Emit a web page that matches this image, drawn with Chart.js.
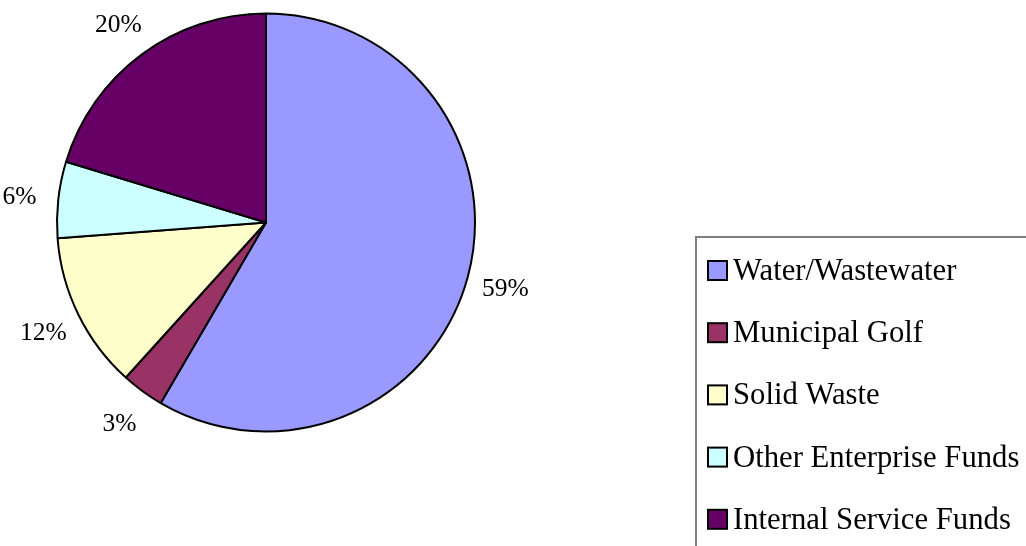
<!DOCTYPE html>
<html>
<head>
<meta charset="utf-8">
<script src="https://cdn.jsdelivr.net/npm/chart.js@4.4.0/dist/chart.umd.min.js"></script>
<style>
html,body{margin:0;padding:0;background:#fff;}
#wrap{position:relative;width:1026px;height:546px;}
</style>
</head>
<body>
<div id="wrap"><canvas id="c" width="1026" height="546"></canvas></div>
<script>
const categories = ["Water/Wastewater", "Municipal Golf", "Solid Waste", "Other Enterprise Funds", "Internal Service Funds"];
const values = [58.4, 3.3, 12.1, 5.9, 20.3];
const percentLabels = ["59%", "3%", "12%", "6%", "20%"];
const colors = ["#9999FF", "#993366", "#FFFFCC", "#CCFFFF", "#660066"];

const FONT = '"Liberation Serif", "Times New Roman", serif';

const labelPlugin = {
  id: 'pctLabels',
  afterDatasetsDraw(chart) {
    const ctx = chart.ctx;
    const meta = chart.getDatasetMeta(0);
    ctx.save();
    ctx.font = '25.5px ' + FONT;
    ctx.fillStyle = '#000';
    ctx.textAlign = 'center';
    ctx.textBaseline = 'middle';
    meta.data.forEach((arc, i) => {
      const mid = (arc.startAngle + arc.endAngle) / 2;
      const r = arc.outerRadius + 39;
      const x = arc.x + Math.cos(mid) * r;
      const y = arc.y + Math.sin(mid) * r + 2;
      ctx.fillText(percentLabels[i], x, y);
    });
    ctx.restore();
  }
};

const legendPlugin = {
  id: 'boxLegend',
  afterDraw(chart) {
    const ctx = chart.ctx;
    ctx.save();
    ctx.strokeStyle = '#808080';
    ctx.lineWidth = 2;
    ctx.strokeRect(696, 237, 400, 400);
    ctx.font = '30.7px ' + FONT;
    ctx.textBaseline = 'alphabetic';
    ctx.textAlign = 'left';
    const base = 280, step = 62.2;
    categories.forEach((name, i) => {
      const y = base + i * step;
      ctx.fillStyle = colors[i];
      ctx.fillRect(708, y - 19, 19, 19);
      ctx.strokeStyle = '#000';
      ctx.lineWidth = 2;
      ctx.strokeRect(708, y - 19, 19, 19);
      ctx.fillStyle = '#000';
      ctx.fillText(name, 733, y);
    });
    ctx.restore();
  }
};

new Chart(document.getElementById('c'), {
  type: 'pie',
  data: {
    labels: categories,
    datasets: [{
      data: values,
      backgroundColor: colors,
      borderColor: '#000',
      borderWidth: 2,
      borderAlign: 'center'
    }]
  },
  options: {
    responsive: false,
    animation: false,
    layout: { padding: { left: 56, right: 550, top: 12, bottom: 113 } },
    plugins: {
      legend: { display: false },
      tooltip: { enabled: false }
    }
  },
  plugins: [labelPlugin, legendPlugin]
});
</script>
</body>
</html>
